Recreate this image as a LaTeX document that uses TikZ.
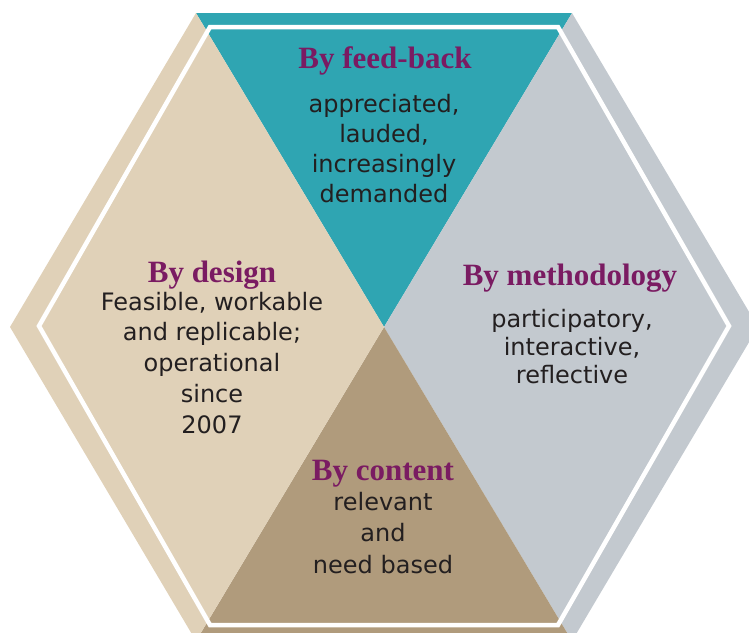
\documentclass[tikz,border=0pt]{standalone}
\usepackage{fontspec}
\setmainfont{DejaVu Sans}
\newfontfamily\headfont{Liberation Serif}
\definecolor{sea}{HTML}{2FA5B2}
\definecolor{mist}{HTML}{C3C9CF}
\definecolor{clay}{HTML}{B09B7C}
\definecolor{sand}{HTML}{E0D1B8}
\definecolor{plum}{HTML}{7A1B62}
\definecolor{ink}{HTML}{231F20}

\begin{document}
\begin{tikzpicture}[x=1pt,y=-1pt,
    head/.style={font=\headfont\bfseries\fontsize{31}{31}\selectfont,
      text=plum,inner sep=0pt,anchor=base},
    % anchor=base sits on the last line here
    body/.style={font=\fontsize{24}{#1}\selectfont,text=ink,
      align=center,inner sep=0pt,anchor=base},
    body/.default=30]
  \useasboundingbox (0,0) rectangle (749,632);
  \clip (0,0) rectangle (749,632);
  % outer hexagon corners and the crossing point
  \coordinate (c) at (384,327);
  \coordinate (tl) at (196,13);
  \coordinate (tr) at (572,13);
  \coordinate (r) at (758,327);
  \coordinate (br) at (572,641);
  \coordinate (bl) at (196,641);
  \coordinate (l) at (10,327);
  % four coloured sectors
  \fill[sea] (c) -- (tl) -- (tr) -- cycle;
  \fill[mist] (c) -- (tr) -- (r) -- (br) -- cycle;
  \fill[clay] (c) -- (br) -- (bl) -- cycle;
  \fill[sand] (c) -- (bl) -- (l) -- (tl) -- cycle;
  % inner white frame
  \draw[white,line width=4.5pt,miter limit=4]
    (210,27) -- (558,27) -- (729,326) -- (558,625) -- (210,625) -- (39,326) -- cycle;
  % labels
  \node[head] (feedback) at (385,68) {By feed-back};
  \node[body] (feedbacktxt) at (384,202) {appreciated,\\lauded,\\increasingly\\demanded};
  \node[head] (design) at (212,282) {By design};
  \node[body=30.75] (designtxt) at (212,433) {Feasible, workable\\and replicable;\\operational\\since\\2007};
  \node[head] (method) at (570,285) {By methodology};
  \node[body=28] (methodtxt) at (572,383) {participatory,\\interactive,\\reflective};
  \node[head] (content) at (383,480) {By content};
  \node[body=31.5] (contenttxt) at (383,573) {relevant\\and\\need based};
\end{tikzpicture}
\end{document}
